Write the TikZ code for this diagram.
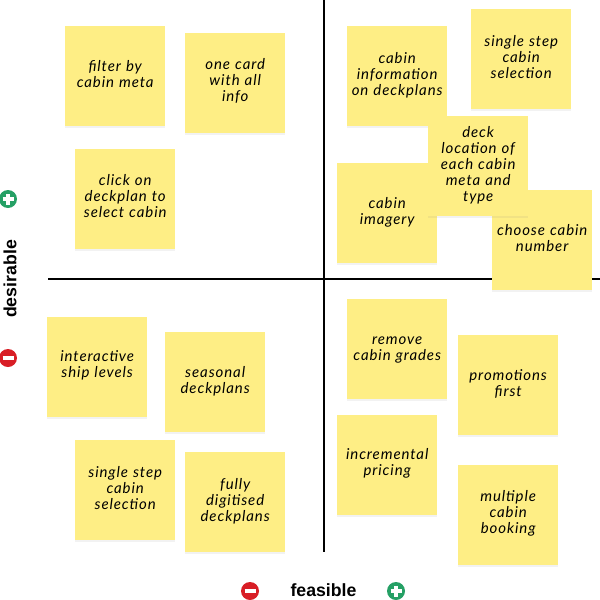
\documentclass[tikz,border=0pt]{standalone}
\usepackage{fontspec}
\usepackage{xcolor}
\usetikzlibrary{shadows,calc}
\setmainfont{Liberation Sans}
\newfontfamily\notefont{Lato}[LetterSpace=6]
\definecolor{postit}{HTML}{FEEE85}
\definecolor{good}{HTML}{25A065}
\definecolor{bad}{HTML}{D81E26}
\tikzset{
  lift/.style={execute at end node={\par\vspace{#1}}},
  note/.style={fill=postit, minimum width=100pt, minimum height=100pt, inner sep=0pt, anchor=north west,
    align=center, text width=98pt, font=\notefont\itshape\fontsize{15}{16}\selectfont,
    drop shadow={opacity=0.1, shadow xshift=0pt, shadow yshift=-1.5pt}},
  axis/.style={line width=2pt},
  lbl/.style={font=\bfseries\fontsize{17.7}{18}\selectfont},
  plusicon/.style={circle, fill=good, minimum size=18pt, inner sep=0pt,
    path picture={\draw[white, line width=3.2pt] (path picture bounding box.center) ++(-5.5pt,0) -- ++(11pt,0);
      \draw[white, line width=3.2pt] (path picture bounding box.center) ++(0,-5.5pt) -- ++(0,11pt);}},
  minusicon/.style={circle, fill=bad, minimum size=18pt, inner sep=0pt,
    path picture={\draw[white, line width=3.2pt] (path picture bounding box.center) ++(-5.5pt,0) -- ++(11pt,0);}}
}
\begin{document}
\begin{tikzpicture}[x=1pt,y=-1pt]
\useasboundingbox (0,0) rectangle (600,600);
% axes
\coordinate (top) at (323.5,0);
\coordinate (bottom) at (323.5,552);
\coordinate (left) at (48,278.5);
\coordinate (right) at (600,278.5);
\draw[axis] (top) -- (bottom);
\draw[axis] (left) -- (right);
% top left
\node[note, lift=4pt] (filter) at (65,26) {filter by\\cabin meta};
\node[note, lift=4pt] (onecard) at (185,33) {one card\\with all\\info};
\node[note, lift=6pt] (click) at (75,149) {click on\\deckplan to\\select cabin};
% top right
\node[note, lift=2pt] (info) at (347,26) {cabin\\information\\on deckplans};
\node[note, lift=4pt] (single) at (471,9) {single step\\cabin\\selection};
\node[note, lift=2pt] (imagery) at (337,163) {cabin\\imagery};
\node[note, lift=4pt] (choose) at (492,190) {choose cabin\\number};
\node[note, lift=2pt] (deck) at (428,116) {deck\\location of\\each cabin\\meta and\\type};
% bottom left
\node[note, lift=4pt] (levels) at (47,317) {interactive\\ship levels};
\node[note, lift=2pt] (seasonal) at (165,332) {seasonal\\deckplans};
\node[note, lift=4pt] (singlelow) at (75,440) {single step\\cabin\\selection};
\node[note, lift=2pt] (digitised) at (185,452) {fully\\digitised\\deckplans};
% bottom right
\node[note, lift=-2pt] (grades) at (347,299) {remove\\cabin grades};
\node[note, lift=2pt] (promo) at (458,335) {promotions\\first};
\node[note, lift=4pt] (pricing) at (337,415) {incremental\\pricing};
\node[note, lift=4pt] (booking) at (458,465) {multiple\\cabin\\booking};
% labels
\node[lbl, rotate=90] (desirable) at (10,279) {desirable};
\node[lbl] (feasible) at (323.5,590) {feasible};
\node[plusicon] (yplus) at (8,199) {};
\node[minusicon] (yminus) at (8,358) {};
\node[minusicon] (xminus) at (250,591) {};
\node[plusicon] (xplus) at (396,591) {};
\end{tikzpicture}
\end{document}
